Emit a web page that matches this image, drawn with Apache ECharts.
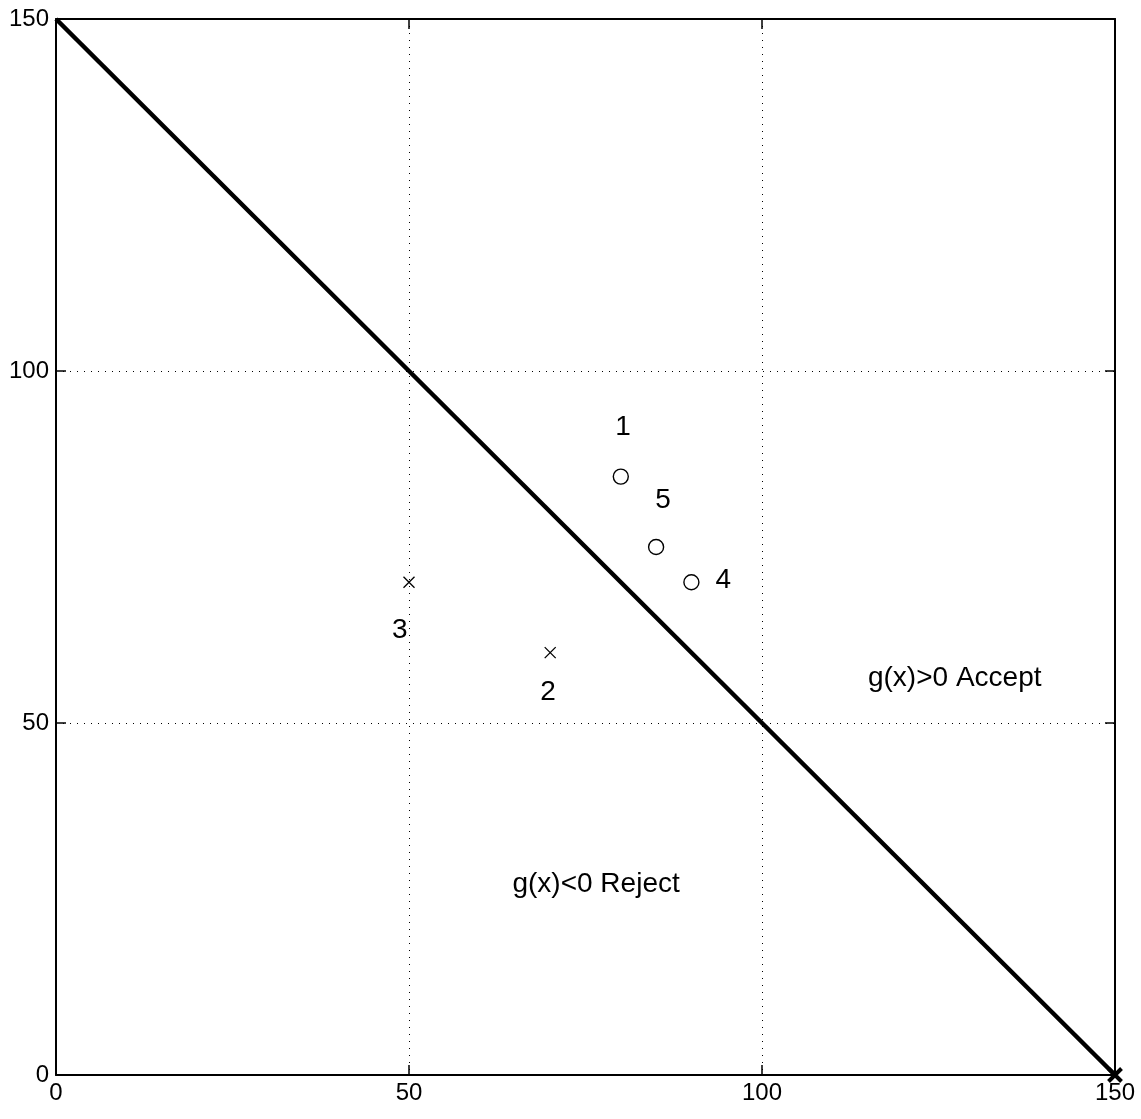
<!DOCTYPE html>
<html><head><meta charset="utf-8">
<script src="https://cdn.jsdelivr.net/npm/echarts@6/dist/echarts.min.js"></script>
<style>html,body{margin:0;padding:0;background:#fff}#c{width:1141px;height:1119px}</style>
</head><body><div id="c"></div>
<script>
var xTicks = [0, 50, 100, 150];
var yTicks = [0, 50, 100, 150];
var boundary = [[0, 150], [150, 0]];
var acceptPoints = [[80, 85], [85, 75], [90, 70]];
var rejectPoints = [[70, 60], [50, 70]];
var endPoint = [[150, 0]];
var pointLabels = ['1', '5', '4', '3', '2'];
var pointLabelPos = [[80.3, 92.0], [86.0, 81.7], [94.5, 70.3], [48.7, 63.2], [69.7, 54.4]];
var regionLabels = ['g(x)>0 Accept', 'g(x)<0 Reject'];
var regionLabelPos = [[127.3, 56.4], [76.5, 27.1]];

var FONT = '"Liberation Sans Narrow", "Liberation Sans", Arial, sans-serif';
var chart = echarts.init(document.getElementById('c'));
function axisBase(show, pos) {
  return {
    type: 'value', min: xTicks[0], max: xTicks[xTicks.length - 1], interval: 50,
    position: pos,
    axisLine: { show: true, onZero: false, lineStyle: { color: '#000', width: 2 } },
    axisTick: { show: true, inside: true, length: 10, lineStyle: { color: '#000', width: 1.5 } },
    axisLabel: { show: show, color: '#000', fontFamily: FONT, fontSize: 24 },
    splitLine: { show: false }
  };
}
var xb = axisBase(true, 'bottom');
xb.axisLabel.margin = 6;
xb.splitLine = { show: true, lineStyle: { color: '#000', type: [1, 6], width: 1 } };
var xt = axisBase(false, 'top');
var yl = axisBase(true, 'left');
yl.min = yTicks[0]; yl.max = yTicks[yTicks.length - 1];
yl.axisLabel.margin = 7;
yl.splitLine = { show: true, lineStyle: { color: '#000', type: [1, 6], width: 1 } };
var yr = axisBase(false, 'right');
yr.min = yTicks[0]; yr.max = yTicks[yTicks.length - 1];

var textData = pointLabels.map(function (t, i) { return { value: pointLabelPos[i], name: t }; })
  .concat(regionLabels.map(function (t, i) { return { value: regionLabelPos[i], name: t }; }));

chart.setOption({
  animation: false,
  backgroundColor: '#fff',
  grid: { left: 56, top: 19, right: 26, bottom: 44 },
  xAxis: [xb, xt],
  yAxis: [yl, yr],
  series: [
    { type: 'line', data: boundary, symbol: 'none', lineStyle: { color: '#000', width: 4.5 }, z: 5 },
    { type: 'scatter', data: acceptPoints, symbol: 'circle', symbolSize: 15,
      itemStyle: { color: 'none', borderColor: '#000', borderWidth: 1.4, opacity: 1 }, z: 6 },
    { type: 'scatter', data: rejectPoints, symbol: 'path://M0,0L10,10M10,0L0,10', symbolSize: 11,
      itemStyle: { color: 'none', borderColor: '#000', borderWidth: 1.3, opacity: 1 }, z: 6 },
    { type: 'scatter', data: endPoint, symbol: 'path://M0,0L10,10M10,0L0,10', symbolSize: 13,
      itemStyle: { color: 'none', borderColor: '#000', borderWidth: 4, opacity: 1 }, z: 7 },
    { type: 'scatter', data: textData, symbolSize: 0, z: 8,
      itemStyle: { opacity: 1 },
      label: { show: true, position: 'inside', formatter: function (p) { return p.name; },
        color: '#000', fontFamily: FONT, fontSize: 28 } }
  ]
});
</script></body></html>
